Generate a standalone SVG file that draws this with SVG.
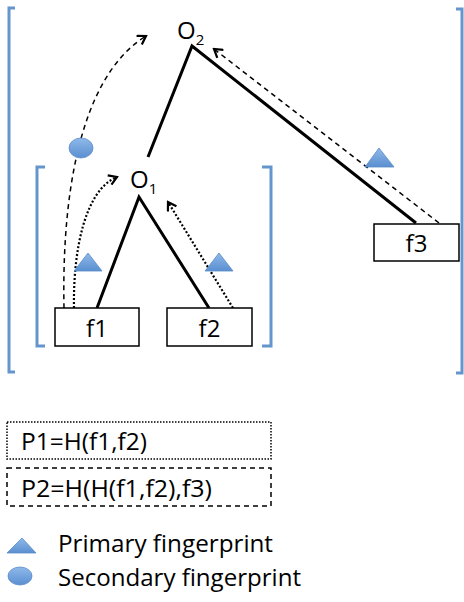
<svg xmlns="http://www.w3.org/2000/svg" width="464" height="602" viewBox="0 0 464 602">
  <style>
    text { font-family: "Open Sans", "Noto Sans", sans-serif; fill: #000; }
    .lbl { font-size: 24px; }
    .sub { font-size: 15px; }
    .bracket { fill: none; stroke: #6495cd; stroke-width: 3; }
    .box { fill: #fff; stroke: #000; stroke-width: 1.5; }
    .edge { fill: none; stroke: #000; stroke-width: 3; }
    .dash { fill: none; stroke: #000; stroke-width: 1.5; stroke-dasharray: 5 4; }
    .dot { fill: none; stroke: #000; stroke-width: 2.2; stroke-dasharray: 2 2; }
    .prim { fill: url(#blueGrad); stroke: #5b8cc8; stroke-width: 0.8; }
  </style>
  <defs>
    <linearGradient id="blueGrad" x1="0" y1="0" x2="0" y2="1">
      <stop offset="0" stop-color="#8fb9ea"/>
      <stop offset="1" stop-color="#5a8fd0"/>
    </linearGradient>
    <marker id="chev" viewBox="0 0 12 12" refX="10" refY="6" markerWidth="12" markerHeight="12" markerUnits="userSpaceOnUse" orient="auto">
      <path d="M2,1 L10,6 L2,11" fill="none" stroke="#000" stroke-width="2.2"/>
    </marker>
  </defs>

  <!-- brackets -->
  <g id="outer-bracket">
    <path class="bracket" d="M15,8 H9 V372 H15"/>
    <path class="bracket" d="M456,9 H462 V373 H456"/>
  </g>
  <g id="inner-bracket">
    <path class="bracket" d="M45,167 H37 V346 H45"/>
    <path class="bracket" d="M262,167 H271 V346 H262"/>
  </g>

  <!-- tree edges and fingerprint paths -->
  <g id="connectors">
    <path class="edge" d="M148,157 L192,46 L416,223"/>
    <path class="edge" d="M97,308 L139,197 L209,308"/>
    <path class="dash" d="M439,223 L214,49" marker-end="url(#chev)"/>
    <path class="dot" d="M233,308 L168,202" marker-end="url(#chev)"/>
    <path class="dot" d="M74,308 C73,250 85,190 117,177" marker-end="url(#chev)"/>
    <path class="dash" d="M64,308 C62,210 75,80 146,36" marker-end="url(#chev)"/>
  </g>

  <g id="O2">
    <text class="lbl" x="177" y="39">O<tspan class="sub" dy="6">2</tspan></text>
  </g>
  <g id="O1">
    <text class="lbl" x="130" y="188">O<tspan class="sub" dy="6">1</tspan></text>
  </g>

  <g id="f1">
    <rect class="box" x="55" y="308" width="84" height="38"/>
    <text class="lbl" x="97" y="337" text-anchor="middle">f1</text>
  </g>
  <g id="f2">
    <rect class="box" x="167" y="308" width="85" height="38"/>
    <text class="lbl" x="209.5" y="337" text-anchor="middle">f2</text>
  </g>
  <g id="f3">
    <rect class="box" x="374" y="224" width="85" height="37"/>
    <text class="lbl" x="416.5" y="252" text-anchor="middle">f3</text>
  </g>

  <!-- fingerprint markers on the paths -->
  <g id="markers">
    <polygon class="prim" points="88,253 102,271 74,271"/>
    <polygon class="prim" points="219,253 233,271 205,271"/>
    <polygon class="prim" points="379,148 394,167 365,167"/>
    <ellipse class="prim" cx="81" cy="148" rx="12" ry="10"/>
  </g>

  <g id="legend">
    <rect x="7" y="422" width="264" height="37" fill="none" stroke="#000" stroke-width="1.5" stroke-dasharray="1.5 1.5"/>
    <text class="lbl" x="21" y="450" textLength="126" lengthAdjust="spacingAndGlyphs">P1=H(f1,f2)</text>
    <rect x="7" y="468" width="264" height="38" fill="none" stroke="#000" stroke-width="1.5" stroke-dasharray="5 4"/>
    <text class="lbl" x="21" y="497" textLength="191" lengthAdjust="spacingAndGlyphs">P2=H(H(f1,f2),f3)</text>
    <polygon class="prim" points="22,538 36,553 7,553"/>
    <text class="lbl" x="58" y="552" textLength="215" lengthAdjust="spacingAndGlyphs">Primary fingerprint</text>
    <ellipse class="prim" cx="20" cy="576" rx="12" ry="9"/>
    <text class="lbl" x="58" y="586" textLength="243" lengthAdjust="spacingAndGlyphs">Secondary fingerprint</text>
  </g>
</svg>
